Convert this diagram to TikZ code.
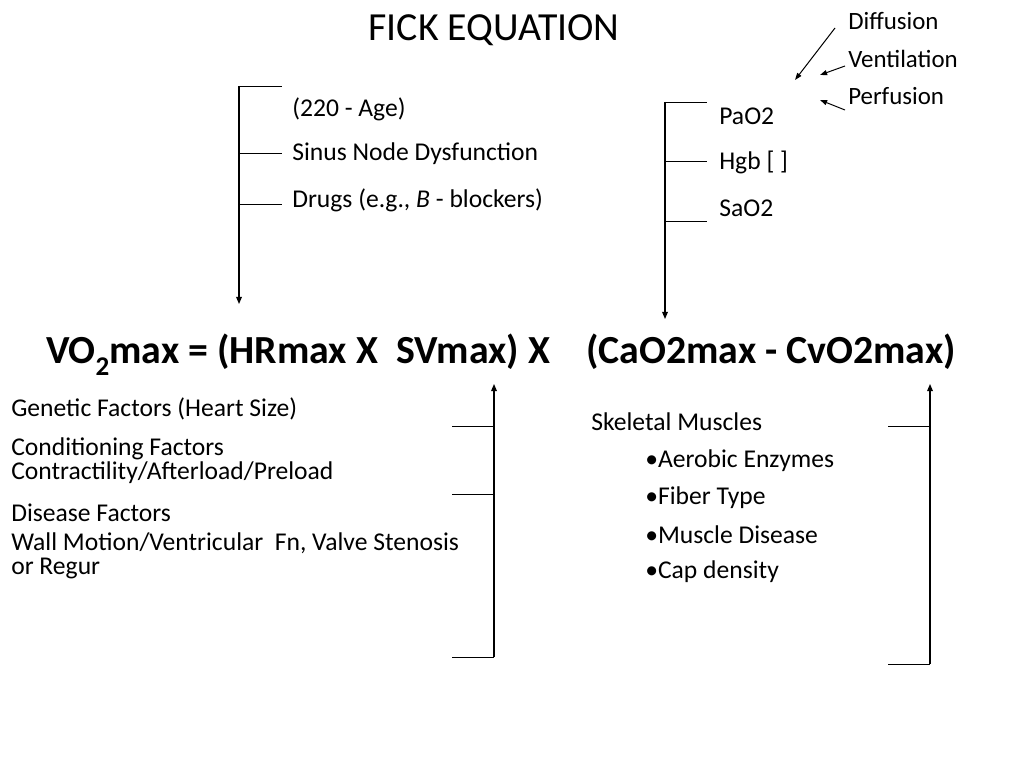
\documentclass[tikz,border=0pt]{standalone}
\usepackage{fontspec}
\setmainfont{Carlito}
\usetikzlibrary{arrows,arrows.meta}
\usetikzlibrary{positioning}

\begin{document}
\begin{tikzpicture}[x=0.703125pt, y=-0.703125pt,
	lbl/.style={anchor=west, inner sep=0, font=\fontsize{18}{17}\selectfont},
	side/.style={anchor=west, inner sep=0, font=\fontsize{17.5}{17}\selectfont},
	tick/.style={draw=black, line width=0.5pt},
	stem/.style={draw=black, line width=0.8pt, -{Triangle[length=5pt,width=4pt]}},
	pointer/.style={draw=black, line width=0.7pt, -{Triangle[length=5pt,width=3.5pt]}}]
	\useasboundingbox (0,0) rectangle (1024,768);
	\node [inner sep=0, font=\fontsize{28}{32}\selectfont] (title) at (494,30) {FICK EQUATION};
%	factors of the gas exchange
	\node [side] (diff) at (848,21) {Diffusion};
	\node [side] (vent) at (848,59) {Ventilation};
	\node [side] (perf) at (848,96) {Perfusion};
	\coordinate (diffto) at (795,80);
	\path [pointer] (diff.west) ++(-13,7) -- (diffto);
	\path [pointer] (vent.west) ++(-3,7) -- ++(-25,9);
	\path [pointer] (perf.west) ++(-3,14) -- ++(-25,-10);
%	heart rate
	\node [lbl] (age) at (292,109) {(220 - Age)};
	\node [lbl] (sinus) at (292,154) {Sinus Node Dysfunction};
	\node [lbl] (drugs) at (292,200) {Drugs (e.g., \textit{B} - blockers)};
	\coordinate (hr0) at (239,86);
	\coordinate (hr1) at (239,153);
	\coordinate (hr2) at (239,204);
	\coordinate (hrend) at (239,304);
	\path [tick] (hr0) -- ++(43,0);
	\path [tick] (hr1) -- ++(43,0);
	\path [tick] (hr2) -- ++(43,0);
	\path [stem] (hr0) -- (hrend);
%	arterial oxygen
	\node [lbl] (pao) at (719,116) {PaO2};
	\node [lbl] (hgb) at (719,162) {Hgb [ ]};
	\node [lbl] (sao) at (719,208) {SaO2};
	\coordinate (ao0) at (665,102);
	\coordinate (ao1) at (665,161);
	\coordinate (ao2) at (665,221);
	\coordinate (aoend) at (665,319);
	\path [tick] (ao0) -- ++(42,0);
	\path [tick] (ao1) -- ++(42,0);
	\path [tick] (ao2) -- ++(42,0);
	\path [stem] (ao0) -- (aoend);
%	the equation
	\node [inner sep=0, font=\fontsize{28}{32}\selectfont\bfseries] (eq) at (501,355) {VO\raisebox{-0.3em}{\fontsize{19}{19}\selectfont 2}max = (HRmax X\ \ SVmax) X\hspace{0.9em}(CaO2max - CvO2max)};
%	stroke volume
	\node [lbl] (gen) at (11,409) {Genetic Factors (Heart Size)};
	\node [lbl, align=left, anchor=north west] (cond) at (11,437) {Conditioning Factors\\Contractility/Afterload/Preload};
	\node [lbl] (dis) at (11,513) {Disease Factors};
	\node [lbl, align=left, anchor=north west] (wall) at (11,532) {Wall Motion/Ventricular\ \ Fn, Valve Stenosis\\or Regur};
	\coordinate (sv0) at (494,657);
	\coordinate (sv1) at (494,494);
	\coordinate (sv2) at (494,426);
	\coordinate (svend) at (494,384);
	\path [tick] (sv0) -- ++(-42,0);
	\path [tick] (sv1) -- ++(-42,0);
	\path [tick] (sv2) -- ++(-42,0);
	\path [stem] (sv0) -- (svend);
%	skeletal muscle
	\node [lbl] (skel) at (591,422) {Skeletal Muscles};
	\node [lbl] (aer) at (645,461) {•Aerobic Enzymes};
	\node [lbl] (fib) at (645,498) {•Fiber Type};
	\node [lbl] (mus) at (645,535) {•Muscle Disease};
	\node [lbl] (cap) at (645,572) {•Cap density};
	\coordinate (sm0) at (930,664);
	\coordinate (sm1) at (930,426);
	\coordinate (smend) at (930,384);
	\path [tick] (sm0) -- ++(-42,0);
	\path [tick] (sm1) -- ++(-42,0);
	\path [stem] (sm0) -- (smend);
\end{tikzpicture}
\end{document}
